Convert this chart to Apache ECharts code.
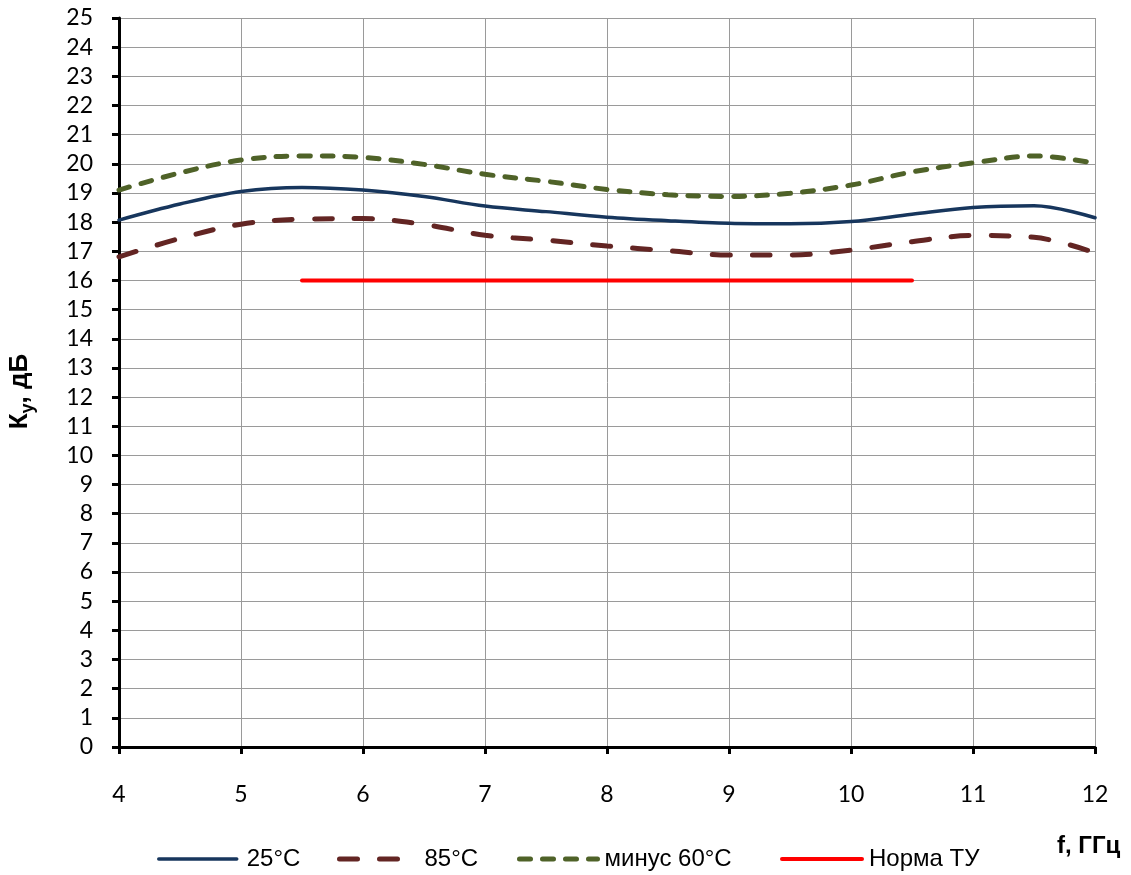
<!DOCTYPE html>
<html><head><meta charset="utf-8">
<script src="https://cdn.jsdelivr.net/npm/echarts@6/dist/echarts.min.js"></script>
<style>html,body{margin:0;padding:0;background:#fff}#c{width:1131px;height:875px}</style>
</head><body><div id="c"></div>
<script>
const freq = [4, 4.5, 5, 5.5, 6, 6.5, 7, 7.5, 8, 8.5, 9, 9.5, 10, 10.5, 11, 11.5, 12];
const t25 = [18.07, 18.62, 19.05, 19.19, 19.1, 18.88, 18.55, 18.36, 18.17, 18.05, 17.96, 17.94, 18.02, 18.27, 18.5, 18.56, 18.15];
const t85 = [16.81, 17.44, 17.93, 18.1, 18.12, 17.92, 17.55, 17.38, 17.18, 17.02, 16.87, 16.87, 17.04, 17.33, 17.54, 17.48, 16.95];
const tm60 = [19.1, 19.69, 20.13, 20.27, 20.22, 19.98, 19.64, 19.4, 19.12, 18.94, 18.88, 18.99, 19.27, 19.72, 20.03, 20.27, 20.02];
const normF = [5.5, 10.5];
const normV = [16, 16];
const seriesNames = ['25°C', '85°C', 'минус 60°C', 'Норма ТУ'];
const yTicks = {min: 0, max: 25, step: 1};
const xTicks = {min: 4, max: 12, step: 1};

const colors = ['#17365d', '#632523', '#4f6228', '#ff0000'];
const widths = [3.5, 5, 5, 4];
const dashes = ['solid', [18, 22], [11, 12], 'solid'];
const zip = (xs, ys) => xs.map((x, i) => [x, ys[i]]);
const chart = echarts.init(document.getElementById('c'), null, {renderer: 'canvas'});
const tickFont = {fontFamily: 'Lato, "Open Sans", sans-serif', fontSize: 23, color: '#000'};
const legFont = {fontFamily: '"Liberation Sans", Arial, sans-serif', fontSize: 24, color: '#000'};
const legPos = [
  {left: 157, w: 78, pad: 5},
  {left: 337, w: 60, pad: 20},
  {left: 517, w: 78, pad: 2},
  {left: 780, w: 80, pad: 2}
];
const legends = legPos.map((p, i) => ({
  left: p.left, top: 847, padding: 0, itemWidth: p.w, itemHeight: 8, itemGap: 0,
  textStyle: Object.assign({padding: [0, 0, 0, p.pad]}, legFont),
  itemStyle: {opacity: 0},
  data: [{name: seriesNames[i], lineStyle: {color: colors[i], width: widths[i], type: dashes[i], cap: 'round'}}]
}));
chart.setOption({
  animation: false,
  grid: {left: 119, right: 36, top: 18, bottom: 128, containLabel: false, outerBoundsMode: 'none'},
  legend: legends,
  xAxis: {
    type: 'value', min: xTicks.min, max: xTicks.max, interval: xTicks.step,
    axisLine: {onZero: false, lineStyle: {color: '#000', width: 3}},
    axisTick: {length: 7, lineStyle: {color: '#000', width: 3}},
    axisLabel: Object.assign({margin: 36}, tickFont),
    splitLine: {show: true, lineStyle: {color: '#9a9a9a', width: 1}}
  },
  yAxis: {
    type: 'value', min: yTicks.min, max: yTicks.max, interval: yTicks.step,
    name: 'К{s|у}, дБ', nameLocation: 'middle', nameRotate: 90, nameGap: 82,
    nameTextStyle: {fontFamily: '"Liberation Sans", sans-serif', fontSize: 26, fontWeight: 'bold', color: '#000',
      padding: [0, 18, 0, 0],
      rich: {s: {fontFamily: '"Liberation Sans", sans-serif', fontSize: 18, fontWeight: 'bold', verticalAlign: 'bottom', padding: [16, 0, 0, 0]}}},
    axisLine: {show: true, lineStyle: {color: '#000', width: 3}},
    axisTick: {show: true, length: 7, lineStyle: {color: '#000', width: 3}},
    axisLabel: Object.assign({margin: 26}, tickFont),
    splitLine: {show: true, lineStyle: {color: '#9a9a9a', width: 1}}
  },
  graphic: [{
    type: 'text', left: 1057, top: 834,
    style: {text: 'f, ГГц', font: 'bold 24px "Liberation Sans", sans-serif', fill: '#000'}
  }],
  series: seriesNames.map((n, i) => ({
    name: n, type: 'line',
    data: i === 0 ? zip(freq, t25) : i === 1 ? zip(freq, t85) : i === 2 ? zip(freq, tm60) : zip(normF, normV),
    smooth: i === 3 ? false : 0.35, symbol: 'none',
    lineStyle: {color: colors[i], width: widths[i], type: dashes[i], cap: 'round'},
    itemStyle: {color: colors[i]}, z: 3
  }))
});
</script></body></html>
